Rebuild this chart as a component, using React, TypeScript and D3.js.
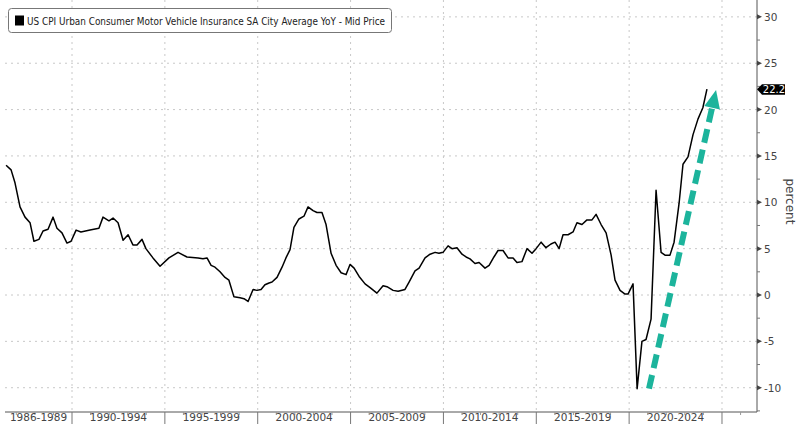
import React from "react";
import * as d3 from "d3";

const dates: number[] = [
  1986.45, 1986.72, 1986.93, 1987.2, 1987.47, 1987.74, 1987.95, 1988.22, 1988.44, 1988.71,
  1988.98, 1989.19, 1989.46, 1989.73, 1989.95, 1990.22, 1990.48, 1990.97, 1991.45, 1991.67,
  1991.99, 1992.21, 1992.48, 1992.75, 1993.02, 1993.28, 1993.5, 1993.77, 1993.98, 1994.36,
  1994.74, 1995.22, 1995.71, 1996.19, 1996.79, 1997.05, 1997.27, 1997.49, 1997.7, 1997.97,
  1998.24, 1998.45, 1998.72, 1999.05, 1999.26, 1999.48, 1999.75, 1999.96, 2000.18, 2000.39,
  2000.61, 2000.77, 2001.04, 2001.31, 2001.52, 2001.74, 2001.95, 2002.22, 2002.49, 2002.71,
  2002.98, 2003.19, 2003.46, 2003.68, 2003.95, 2004.22, 2004.49, 2004.76, 2004.97, 2005.19,
  2005.46, 2005.78, 2006.05, 2006.42, 2006.75, 2006.96, 2007.29, 2007.56, 2007.93, 2008.15,
  2008.47, 2008.69, 2009.01, 2009.28, 2009.55, 2009.76, 2009.98, 2010.25, 2010.46, 2010.73,
  2011.0, 2011.22, 2011.43, 2011.7, 2011.92, 2012.24, 2012.46, 2012.72, 2012.94, 2013.21,
  2013.48, 2013.75, 2013.96, 2014.23, 2014.5, 2014.77, 2014.99, 2015.26, 2015.52, 2015.79,
  2016.01, 2016.23, 2016.44, 2016.71, 2016.98, 2017.19, 2017.46, 2017.73, 2018.0, 2018.22,
  2018.49, 2018.76, 2019.03, 2019.24, 2019.51, 2019.78, 2019.94, 2020.21, 2020.43, 2020.69,
  2020.91, 2021.18, 2021.45, 2021.72, 2021.93, 2022.2, 2022.42, 2022.69, 2022.9, 2023.17,
  2023.44, 2023.71, 2023.97, 2024.19,
];

const values: number[] = [
  14.0, 13.5, 12.1, 9.5, 8.4, 7.8, 5.8, 6.0, 6.9, 7.1,
  8.4, 7.2, 6.7, 5.6, 5.8, 7.0, 6.8, 7.0, 7.2, 8.4,
  8.0, 8.3, 7.8, 5.9, 6.5, 5.4, 5.4, 6.0, 5.0, 4.0,
  3.1, 4.0, 4.6, 4.1, 4.0, 3.9, 4.0, 3.2, 3.0, 2.5,
  1.9, 1.6, -0.2, -0.3, -0.4, -0.7, 0.6, 0.5, 0.6, 1.1,
  1.3, 1.4, 1.9, 3.0, 4.0, 4.9, 7.3, 8.2, 8.5, 9.5,
  9.1, 8.9, 8.9, 7.6, 4.5, 3.2, 2.4, 2.2, 3.3, 2.9,
  2.0, 1.2, 0.8, 0.2, 1.0, 0.9, 0.5, 0.4, 0.6, 1.4,
  2.6, 2.9, 4.0, 4.4, 4.6, 4.5, 4.6, 5.3, 5.0, 5.1,
  4.4, 4.1, 3.9, 3.4, 3.5, 2.9, 3.2, 4.1, 4.8, 4.8,
  4.0, 4.0, 3.5, 3.6, 5.0, 4.5, 5.0, 5.7, 5.1, 5.5,
  5.7, 5.0, 6.5, 6.5, 6.8, 7.8, 7.6, 8.1, 8.1, 8.7,
  7.6, 6.7, 4.3, 1.6, 0.5, 0.1, 0.1, 1.2, -10.1, -5.0,
  -4.8, -2.6, 11.3, 4.6, 4.3, 4.3, 5.7, 9.9, 14.1, 14.9,
  17.3, 19.0, 20.2, 22.2,
];

const yTicks: number[] = [-10, -5, 0, 5, 10, 15, 20, 25, 30];
const periodBounds: number[] = [1990, 1995, 2000, 2005, 2010, 2015, 2020, 2025];
const periodLabels: string[] = [
  "1986-1989", "1990-1994", "1995-1999", "2000-2004", "2005-2009",
  "2010-2014", "2015-2019", "2020-2024",
];
const legendText = "US CPI Urban Consumer Motor Vehicle Insurance SA City Average YoY - Mid Price";
const lastLabel = "22.2";
const arrowFrom: [number, number] = [2021.07, -10.1];
const arrowTo: [number, number] = [2024.68, 22.1];

const W = 800;
const H = 424;
const left = 5;
const right = 757;
const top = 0;
const bottom = 412;

export default function App() {
  const x = d3.scaleLinear().domain([1986.392, 2026.885]).range([left, right]);
  const y = d3.scaleLinear().domain([-12.62, 31.82]).range([bottom, top]);
  const pts = dates.map((d, i) => [d, values[i]] as [number, number]);
  const line = d3.line<[number, number]>().x((p) => x(p[0])).y((p) => y(p[1]));

  const minorY = d3.range(-12.5, 31, 2.5).filter((v) => !yTicks.includes(v));
  const years = d3.range(1987, 2027).filter((yr) => !periodBounds.includes(yr));
  const edges = [x.domain()[0], ...periodBounds, x.domain()[1]];
  const labelCenters = periodLabels.map((_, i) => (x(edges[i]) + x(edges[i + 1])) / 2);

  // arrow geometry
  const ax0 = x(arrowFrom[0]);
  const ay0 = y(arrowFrom[1]);
  const ax1 = x(arrowTo[0]);
  const ay1 = y(arrowTo[1]);
  const len = Math.hypot(ax1 - ax0, ay1 - ay0);
  const ux = (ax1 - ax0) / len;
  const uy = (ay1 - ay0) / len;
  const headLen = 18;
  const headW = 8;
  const bx = ax1 - ux * headLen;
  const by = ay1 - uy * headLen;
  const head = `M${ax1},${ay1} L${bx - uy * headW},${by + ux * headW} L${bx + uy * headW},${by - ux * headW} Z`;

  const ly = y(values[values.length - 1]);
  const font = "'DejaVu Sans', 'Liberation Sans', sans-serif";

  return (
    <svg width={W} height={H} style={{ position: "absolute", left: 0, top: 0, background: "#fff" }}>
      <rect x={0} y={0} width={W} height={H} fill="#fff" />
      {/* grid */}
      {yTicks.map((v) => (
        <line key={"hg" + v} x1={left} x2={right} y1={y(v)} y2={y(v)} stroke="#c8c8c8" strokeWidth={1} strokeDasharray="2,4" />
      ))}
      {periodBounds.map((b) => (
        <line key={"vg" + b} x1={x(b)} x2={x(b)} y1={top} y2={bottom} stroke="#c8c8c8" strokeWidth={1} strokeDasharray="2,4" />
      ))}
      {/* bottom axis */}
      <line x1={left} x2={right} y1={bottom} y2={bottom} stroke="#555" strokeWidth={1} />
      {periodBounds.map((b) => (
        <line key={"sep" + b} x1={x(b)} x2={x(b)} y1={bottom} y2={H} stroke="#777" strokeWidth={1} />
      ))}
      {years.map((yr) => (
        <line key={"mt" + yr} x1={x(yr)} x2={x(yr)} y1={bottom} y2={bottom + 3} stroke="#999" strokeWidth={1} />
      ))}
      {periodLabels.map((l, i) => (
        <text key={l} x={labelCenters[i]} y={421} textAnchor="middle" fontFamily={font} fontSize={10.5} fill="#444">
          {l}
        </text>
      ))}
      {/* right axis */}
      <line x1={right} x2={right} y1={top} y2={bottom} stroke="#555" strokeWidth={1} />
      {minorY.map((v) => (
        <line key={"my" + v} x1={right} x2={right + 3} y1={y(v)} y2={y(v)} stroke="#777" strokeWidth={1} />
      ))}
      {yTicks.map((v) => (
        <g key={"yt" + v}>
          <path d={`M${right},${y(v) - 2.5} L${right + 5},${y(v)} L${right},${y(v) + 2.5} Z`} fill="#444" />
          <text x={right + 7} y={y(v) + 4} fontFamily={font} fontSize={10.5} fill="#444">
            {v}
          </text>
        </g>
      ))}
      <text
        transform={`translate(786, ${y(10.1)}) rotate(90)`}
        textAnchor="middle"
        fontFamily={font}
        fontSize={12}
        fill="#444"
      >
        percent
      </text>
      {/* series */}
      <defs>
        <clipPath id="plot">
          <rect x={left} y={top} width={right - left} height={bottom - top} />
        </clipPath>
      </defs>
      <path d={line(pts) || ""} fill="none" stroke="#000" strokeWidth={1.5} strokeLinejoin="round" clipPath="url(#plot)" />
      {/* last value label */}
      <path d={`M${right},${ly} L${right + 5},${ly - 5} L${right + 28},${ly - 5} L${right + 28},${ly + 5.5} L${right + 5},${ly + 5.5} Z`} fill="#000" />
      <text x={right + 17} y={ly + 4} textAnchor="middle" fontFamily={font} fontSize={10} fill="#fff">
        {lastLabel}
      </text>
      {/* arrow annotation */}
      <line x1={ax0} y1={ay0} x2={bx + ux * 2} y2={by + uy * 2} stroke="#1cb49c" strokeWidth={6} strokeDasharray="14,7" />
      <path d={head} fill="#1cb49c" />
      {/* legend */}
      <rect x={8.5} y={8.5} width={383} height={24} rx={3} fill="#fff" stroke="#777" strokeWidth={1} />
      <rect x={15} y={15.5} width={9} height={10} fill="#000" />
      <text x={27} y={24.5} fontFamily={font} fontSize={11} fill="#222" textLength={358} lengthAdjust="spacingAndGlyphs">
        {legendText}
      </text>
    </svg>
  );
}
